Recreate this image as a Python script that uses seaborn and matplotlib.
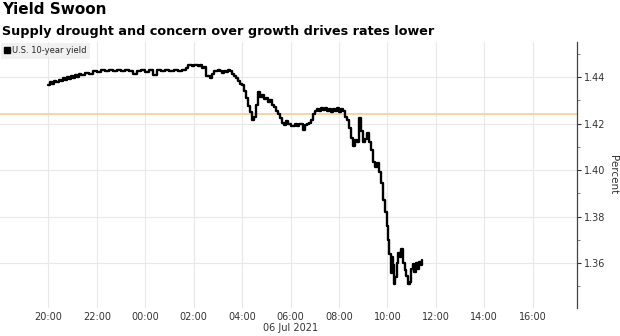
import matplotlib
matplotlib.use("Agg")
import matplotlib.pyplot as plt
import matplotlib.dates as mdates
import matplotlib.transforms as mtransforms
from matplotlib.lines import Line2D
from matplotlib.ticker import MultipleLocator, FormatStrFormatter, FixedLocator
import seaborn as sns
import pandas as pd

# ---- data ----
times = [
    "2021-07-05 20:00", "2021-07-05 20:05", "2021-07-05 20:10", "2021-07-05 20:15",
    "2021-07-05 20:20", "2021-07-05 20:25", "2021-07-05 20:30", "2021-07-05 20:35",
    "2021-07-05 20:40", "2021-07-05 20:45", "2021-07-05 20:50", "2021-07-05 20:55",
    "2021-07-05 21:00", "2021-07-05 21:05", "2021-07-05 21:10", "2021-07-05 21:15",
    "2021-07-05 21:20", "2021-07-05 21:30", "2021-07-05 21:40", "2021-07-05 21:50",
    "2021-07-05 22:00", "2021-07-05 22:10", "2021-07-05 22:20", "2021-07-05 22:30",
    "2021-07-05 22:40", "2021-07-05 22:50", "2021-07-05 23:00", "2021-07-05 23:10",
    "2021-07-05 23:20", "2021-07-05 23:30", "2021-07-05 23:40", "2021-07-05 23:50",
    "2021-07-06 00:00", "2021-07-06 00:10", "2021-07-06 00:20", "2021-07-06 00:30",
    "2021-07-06 00:40", "2021-07-06 00:50", "2021-07-06 01:00", "2021-07-06 01:10",
    "2021-07-06 01:20", "2021-07-06 01:30", "2021-07-06 01:40", "2021-07-06 01:45",
    "2021-07-06 01:55", "2021-07-06 02:00", "2021-07-06 02:10", "2021-07-06 02:15",
    "2021-07-06 02:20", "2021-07-06 02:25", "2021-07-06 02:30", "2021-07-06 02:40",
    "2021-07-06 02:45", "2021-07-06 02:50", "2021-07-06 03:00", "2021-07-06 03:05",
    "2021-07-06 03:10", "2021-07-06 03:15", "2021-07-06 03:20", "2021-07-06 03:25",
    "2021-07-06 03:30", "2021-07-06 03:35", "2021-07-06 03:40", "2021-07-06 03:45",
    "2021-07-06 03:50", "2021-07-06 03:55", "2021-07-06 04:00", "2021-07-06 04:05",
    "2021-07-06 04:10", "2021-07-06 04:15", "2021-07-06 04:20", "2021-07-06 04:25",
    "2021-07-06 04:30", "2021-07-06 04:35", "2021-07-06 04:40", "2021-07-06 04:45",
    "2021-07-06 04:50", "2021-07-06 04:55", "2021-07-06 05:00", "2021-07-06 05:05",
    "2021-07-06 05:10", "2021-07-06 05:15", "2021-07-06 05:20", "2021-07-06 05:25",
    "2021-07-06 05:30", "2021-07-06 05:35", "2021-07-06 05:40", "2021-07-06 05:45",
    "2021-07-06 05:50", "2021-07-06 05:55", "2021-07-06 06:00", "2021-07-06 06:10",
    "2021-07-06 06:15", "2021-07-06 06:20", "2021-07-06 06:30", "2021-07-06 06:35",
    "2021-07-06 06:40", "2021-07-06 06:45", "2021-07-06 06:50", "2021-07-06 06:55",
    "2021-07-06 07:00", "2021-07-06 07:05", "2021-07-06 07:10", "2021-07-06 07:15",
    "2021-07-06 07:20", "2021-07-06 07:25", "2021-07-06 07:30", "2021-07-06 07:35",
    "2021-07-06 07:40", "2021-07-06 07:45", "2021-07-06 07:50", "2021-07-06 07:55",
    "2021-07-06 08:00", "2021-07-06 08:05", "2021-07-06 08:10", "2021-07-06 08:15",
    "2021-07-06 08:20", "2021-07-06 08:25", "2021-07-06 08:30", "2021-07-06 08:35",
    "2021-07-06 08:40", "2021-07-06 08:45", "2021-07-06 08:50", "2021-07-06 08:55",
    "2021-07-06 09:00", "2021-07-06 09:05", "2021-07-06 09:10", "2021-07-06 09:15",
    "2021-07-06 09:20", "2021-07-06 09:25", "2021-07-06 09:30", "2021-07-06 09:35",
    "2021-07-06 09:40", "2021-07-06 09:45", "2021-07-06 09:50", "2021-07-06 09:55",
    "2021-07-06 10:00", "2021-07-06 10:02", "2021-07-06 10:05", "2021-07-06 10:08",
    "2021-07-06 10:11", "2021-07-06 10:14", "2021-07-06 10:17", "2021-07-06 10:20",
    "2021-07-06 10:23", "2021-07-06 10:27", "2021-07-06 10:31", "2021-07-06 10:35",
    "2021-07-06 10:39", "2021-07-06 10:43", "2021-07-06 10:47", "2021-07-06 10:51",
    "2021-07-06 10:55", "2021-07-06 10:59", "2021-07-06 11:03", "2021-07-06 11:07",
    "2021-07-06 11:11", "2021-07-06 11:15", "2021-07-06 11:19", "2021-07-06 11:23",
    "2021-07-06 11:27",
]
yields = [
    1.4365, 1.4378, 1.4372, 1.4385,
    1.4378, 1.4390, 1.4383, 1.4395,
    1.4388, 1.4400, 1.4393, 1.4405,
    1.4398, 1.4410, 1.4402, 1.4415,
    1.4408, 1.4420, 1.4415, 1.4428,
    1.4422, 1.4432, 1.4425, 1.4432,
    1.4427, 1.4433, 1.4428, 1.4432,
    1.4426, 1.4412, 1.4427, 1.4433,
    1.4422, 1.4430, 1.4408, 1.4430,
    1.4426, 1.4433, 1.4428, 1.4432,
    1.4425, 1.4431, 1.4438, 1.4452,
    1.4448, 1.4455, 1.4450, 1.4452,
    1.4438, 1.4445, 1.4405, 1.4398,
    1.4415, 1.4428, 1.4432, 1.4425,
    1.4418, 1.4428, 1.4422, 1.4432,
    1.4425, 1.4415, 1.4405, 1.4395,
    1.4385, 1.4372, 1.4365, 1.4340,
    1.4310, 1.4275, 1.4250, 1.4215,
    1.4230, 1.4280, 1.4335, 1.4315,
    1.4325, 1.4305, 1.4312, 1.4295,
    1.4300, 1.4280, 1.4270, 1.4255,
    1.4240, 1.4225, 1.4205, 1.4195,
    1.4210, 1.4200, 1.4192, 1.4200,
    1.4192, 1.4200, 1.4175, 1.4195,
    1.4198, 1.4205, 1.4218, 1.4240,
    1.4255, 1.4265, 1.4255, 1.4268,
    1.4258, 1.4268, 1.4255, 1.4265,
    1.4250, 1.4262, 1.4255, 1.4267,
    1.4250, 1.4265, 1.4255, 1.4230,
    1.4215, 1.4180, 1.4140, 1.4105,
    1.4130, 1.4120, 1.4225, 1.4170,
    1.4120, 1.4135, 1.4160, 1.4120,
    1.4085, 1.4035, 1.4015, 1.4030,
    1.3990, 1.3945, 1.3870, 1.3820,
    1.3760, 1.3700, 1.3640, 1.3555,
    1.3625, 1.3590, 1.3510, 1.3540,
    1.3600, 1.3645, 1.3625, 1.3660,
    1.3600, 1.3570, 1.3545, 1.3510,
    1.3520, 1.3575, 1.3595, 1.3560,
    1.3600, 1.3575, 1.3605, 1.3590,
    1.3612,
]
tick_times = [
    "2021-07-05 20:00", "2021-07-05 22:00", "2021-07-06 00:00", "2021-07-06 02:00",
    "2021-07-06 04:00", "2021-07-06 06:00", "2021-07-06 08:00", "2021-07-06 10:00",
    "2021-07-06 12:00", "2021-07-06 14:00", "2021-07-06 16:00",
]
reference_level = 1.424
series_label = "U.S. 10-year yield"
title = "Yield Swoon"
subtitle = "Supply drought and concern over growth drives rates lower"
date_label = "06 Jul 2021"
y_label = "Percent"

df = pd.DataFrame({"time": pd.to_datetime(times), "yield": yields})

sns.set_theme(style="white")
plt.rcParams["font.family"] = ["DejaVu Sans"]

fig = plt.figure(figsize=(6.2, 3.36), dpi=100)
ax = fig.add_axes([0.0, 1 - 308 / 336, 577 / 620, (308 - 42) / 336])

sns.lineplot(data=df, x="time", y="yield", ax=ax, color="black",
             linewidth=1.7, drawstyle="steps-post", legend=False)

ax.axhline(reference_level, color="#f5d39b", linewidth=1.3, zorder=1)

# axes ranges
ax.set_xlim(pd.Timestamp("2021-07-05 18:00"), pd.Timestamp("2021-07-06 17:50"))
ax.set_ylim(1.3406, 1.4552)

# x axis
ax.xaxis.set_major_locator(FixedLocator(mdates.date2num(pd.to_datetime(tick_times))))
ax.xaxis.set_major_formatter(mdates.DateFormatter("%H:%M"))
ax.tick_params(axis="x", length=0, labelsize=7, labelcolor="#333333", pad=3)
ax.set_xlabel("")

# y axis on right
ax.yaxis.tick_right()
ax.yaxis.set_label_position("right")
ax.yaxis.set_major_locator(MultipleLocator(0.02))
ax.yaxis.set_minor_locator(MultipleLocator(0.01))
ax.yaxis.set_major_formatter(FormatStrFormatter("%.2f"))
ax.tick_params(axis="y", which="major", length=3, width=0.8, color="#333333",
               labelsize=7, labelcolor="#333333", pad=2, right=True, left=False)
ax.tick_params(axis="y", which="minor", length=2, width=0.6, color="#666666",
               right=True, left=False)
ax.set_ylabel(y_label, rotation=270, labelpad=9, fontsize=7.5, color="#333333")

# grid
ax.grid(True, which="major", color="#e8e8e8", linewidth=0.8)
ax.set_axisbelow(True)

for s in ["left", "top", "bottom"]:
    ax.spines[s].set_visible(False)
ax.spines["right"].set_color("#444444")
ax.spines["right"].set_linewidth(0.9)

# date label under 06:00
trans = mtransforms.blended_transform_factory(ax.transData, ax.transAxes)
ax.text(mdates.date2num(pd.Timestamp("2021-07-06 06:00")), -(328 - 308) / 266, date_label,
        transform=trans, ha="center", va="center", fontsize=7, color="#333333")

# legend
handle = Line2D([], [], marker="s", color="black", linestyle="none", markersize=4)
leg = ax.legend([handle], [series_label], loc="upper left", bbox_to_anchor=(0.0, 1.0),
                fontsize=6, frameon=True, fancybox=False, handlelength=0.6,
                handletextpad=0.3, borderpad=0.4, borderaxespad=0.1)
leg.get_frame().set_facecolor("#eeeeee")
leg.get_frame().set_edgecolor("none")

# titles
fig.text(0.004, 0.995, title, fontsize=11, fontweight="bold", va="top", ha="left",
         color="black")
fig.text(0.004, 0.925, subtitle, fontsize=9.2, fontweight="bold", va="top", ha="left",
         color="black")

fig.savefig("out.png", dpi=100)
